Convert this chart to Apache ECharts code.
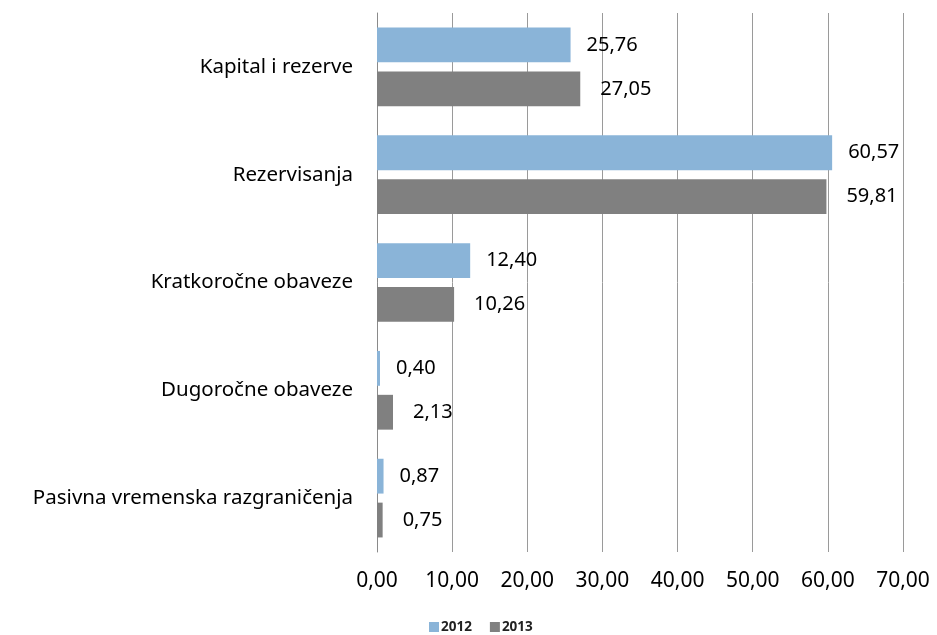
<!DOCTYPE html>
<html>
<head>
<meta charset="utf-8">
<script src="https://cdn.jsdelivr.net/npm/echarts@6/dist/echarts.min.js"></script>
<style>
html, body { margin: 0; padding: 0; background: #fff; }
#chartWrapper { width: 937px; height: 635px; }
</style>
</head>
<body>
<div id="chartWrapper"></div>
<script>
let categories = ['Kapital i rezerve', 'Rezervisanja', 'Kratkoročne obaveze', 'Dugoročne obaveze', 'Pasivna vremenska razgraničenja'];
let values2012 = [25.76, 60.57, 12.40, 0.40, 0.87];
let values2013 = [27.05, 59.81, 10.26, 2.13, 0.75];
let seriesNames = ['2012', '2013'];

function fmt(v) {
    return Number(v).toFixed(2).replace('.', ',');
}

let myChart = echarts.init(document.getElementById('chartWrapper'));
let fontName = 'Noto Sans';

function makeSeries(name, data, color, dist) {
    return {
        name: name,
        type: 'bar',
        data: data,
        barGap: '26%',
        barCategoryGap: '27%',
        itemStyle: { color: color },
        label: {
            show: true,
            position: 'right',
            distance: dist,
            color: '#000',
            fontFamily: fontName,
            fontSize: 20,
            formatter: function (p) { return fmt(p.value); }
        }
    };
}

let option = {
    animation: false,
    grid: {
        left: 377,
        right: 34,
        top: 13,
        bottom: 83,
        containLabel: false
    },
    legend: {
        top: 615,
        left: 424,
        itemWidth: 10,
        itemHeight: 10,
        itemGap: 18,
        icon: 'rect',
        textStyle: { fontFamily: fontName, fontSize: 13.5, fontWeight: 'bold', color: '#222', padding: [0, 0, 0, -3] },
        data: seriesNames
    },
    xAxis: {
        type: 'value',
        min: 0,
        max: 70,
        interval: 10,
        axisLine: { show: false },
        axisTick: { show: false },
        splitLine: { show: true, lineStyle: { color: '#9a9a9a', width: 1 } },
        axisLabel: {
            margin: 19,
            color: '#000',
            fontFamily: fontName,
            fontSize: 21,
            formatter: function (v) { return fmt(v); }
        }
    },
    yAxis: {
        type: 'category',
        inverse: true,
        data: categories,
        axisLine: { show: true, lineStyle: { color: '#8a8a8a' } },
        axisTick: { show: false },
        axisLabel: {
            margin: 24,
            color: '#000',
            fontFamily: fontName,
            fontSize: 20.5
        }
    },
    series: [
        makeSeries(seriesNames[0], values2012, '#8AB4D8', 16),
        makeSeries(seriesNames[1], values2013, '#808080', 20)
    ]
};

myChart.setOption(option);
</script>
</body>
</html>
